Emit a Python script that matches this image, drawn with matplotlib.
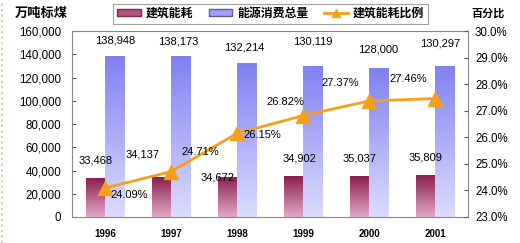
import matplotlib.pyplot as plt
import numpy as np
from matplotlib.colors import LinearSegmentedColormap
from matplotlib.ticker import FuncFormatter, MultipleLocator
from matplotlib.lines import Line2D
from matplotlib.patches import Patch

plt.rcParams['font.family'] = ['Liberation Sans', 'Noto Sans CJK SC', 'DejaVu Sans']

years = ['1996', '1997', '1998', '1999', '2000', '2001']
building = [33468, 34137, 34672, 34902, 35037, 35809]
total = [138948, 138173, 132214, 130119, 128000, 130297]
ratio = [24.09, 24.71, 26.15, 26.82, 27.37, 27.46]

# label offsets in points (dx, dy)
building_off = [(0, 9), (-14, 13), (-7, -4), (4, 9), (0, 9), (0, 9)]
total_off = [(0, 7), (-2, 7), (-2, 8), (0, 14), (0, 10), (-3, 12)]
ratio_off = [(17, -5), (21, 14), (18, -1), (-13, 10), (-21, 13), (-19, 14)]

CJK = ['Noto Sans CJK SC', 'DejaVu Sans']
FS = 8


def gradient_bars(ax, bars, top, bottom):
    cmap = LinearSegmentedColormap.from_list('g', [bottom, top])
    grad = np.linspace(0, 1, 256).reshape(-1, 1)
    for b in bars:
        x0, y0 = b.get_x(), b.get_y()
        w, h = b.get_width(), b.get_height()
        im = ax.imshow(grad, cmap=cmap, aspect='auto', origin='lower',
                       extent=(x0, x0 + w, y0, y0 + h), zorder=b.get_zorder())
        im.set_clip_path(b)
        b.set_facecolor('none')


fig = plt.figure(figsize=(5.2, 2.43), dpi=100)
ax = fig.add_axes([0.139, 0.107, 0.761, 0.765])
x = np.arange(len(years))
w = 0.29

b1 = ax.bar(x - w / 2, building, w, edgecolor='#7a2a4a', linewidth=0.6, zorder=2)
b2 = ax.bar(x + w / 2, total, w, edgecolor='#5a5aa0', linewidth=0.6, zorder=2)
gradient_bars(ax, b1, '#8a1f50', '#e2a8c6')
gradient_bars(ax, b2, '#8080f2', '#dcdcff')

ax.set_xlim(-0.5, len(years) - 0.5)
ax.set_ylim(0, 160000)
ax.yaxis.set_major_locator(MultipleLocator(20000))
ax.yaxis.set_major_formatter(FuncFormatter(lambda v, p: f'{int(v):,}'))
ax.set_xticks(x)
ax.set_xticklabels(years, fontweight='bold')
ax.tick_params(axis='x', length=0, pad=9, labelsize=7)
ax.tick_params(axis='y', direction='in', length=3, labelsize=8.3, pad=8, color='#555555')
for s in ax.spines.values():
    s.set_color('#888888')
    s.set_linewidth(0.8)

for i in range(len(years)):
    ax.annotate(f'{building[i]:,}', (x[i] - w / 2, building[i]), xytext=building_off[i],
                textcoords='offset points', ha='center', va='bottom', fontsize=FS, zorder=5)
    ax.annotate(f'{total[i]:,}', (x[i] + w / 2, total[i]), xytext=total_off[i],
                textcoords='offset points', ha='center', va='bottom', fontsize=FS, zorder=5)

ax2 = ax.twinx()
ax2.set_ylim(23, 30)
ax2.yaxis.set_major_locator(MultipleLocator(1))
ax2.yaxis.set_major_formatter(FuncFormatter(lambda v, p: f'{v:.1f}%'))
ax2.tick_params(axis='y', direction='in', length=3, labelsize=8.3, pad=5, color='#555555')
for s in ax2.spines.values():
    s.set_visible(False)
ax2.plot(x, ratio, color='#f5a01a', linewidth=2, marker='^', markersize=9.5,
         markerfacecolor='#f5a01a', markeredgecolor='#f5a01a', zorder=4)
for i in range(len(years)):
    ax2.annotate(f'{ratio[i]:.2f}%', (x[i], ratio[i]), xytext=ratio_off[i],
                 textcoords='offset points', ha='center', va='center', fontsize=FS, zorder=5)

fig.text(0.028, 0.945, '万吨标煤', family=CJK, fontsize=9.5, weight='bold', va='center')
fig.text(0.906, 0.945, '百分比', family=CJK, fontsize=8, weight='bold', va='center')

handles = [Patch(facecolor='#b0557e', edgecolor='#7a2a4a'),
           Patch(facecolor='#a0a0f8', edgecolor='#5a5aa0'),
           Line2D([0], [0], color='#f5a01a', linewidth=2, marker='^', markersize=6)]
labels = ['建筑能耗', '能源消费总量', '建筑能耗比例']
leg = fig.legend(handles, labels, loc='center', bbox_to_anchor=(0.52, 0.944), ncol=3,
                 frameon=True, fancybox=False, edgecolor='#888888',
                 prop={'family': CJK, 'size': 8.6, 'weight': 'bold'},
                 handlelength=2.0, handleheight=0.5, columnspacing=1.3, borderpad=0.3,
                 handletextpad=0.4, borderaxespad=0)
leg.get_frame().set_linewidth(0.8)

fig.add_artist(Line2D([0.003, 0.003], [0, 1], transform=fig.transFigure, color='#d8d0a0',
                      linestyle=':', linewidth=1.5))

fig.savefig('out.png', dpi=100)
